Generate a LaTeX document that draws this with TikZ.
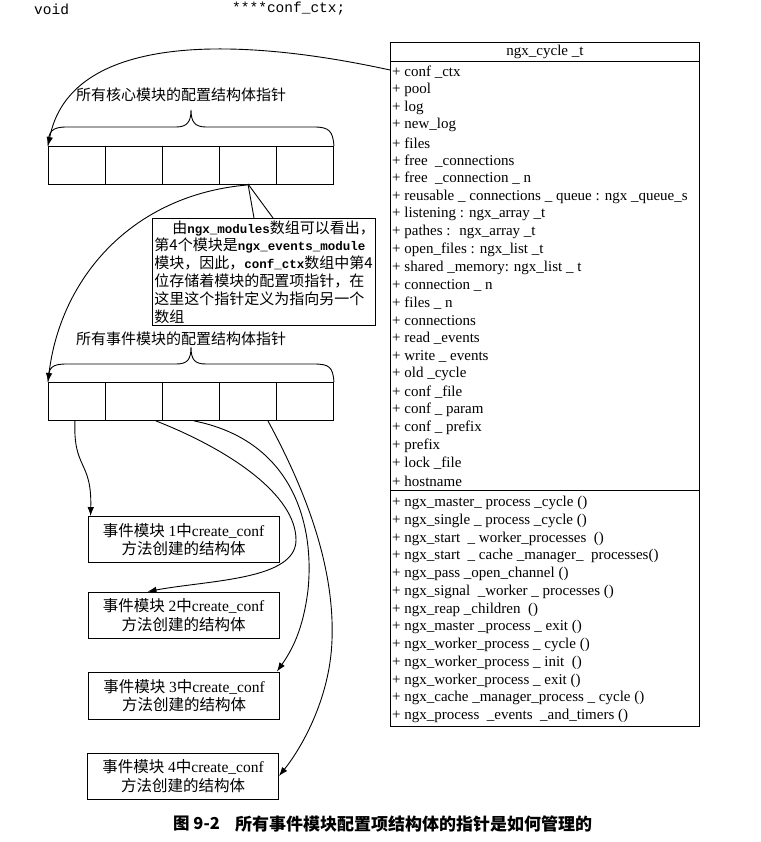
\documentclass[tikz,border=0pt]{standalone}
\usepackage{fontspec}
\setmainfont{Liberation Serif}
\setmonofont{Liberation Mono}
\newfontfamily\cjk{Noto Sans CJK SC}
\usetikzlibrary{arrows.meta,calc}
\newcommand\mtx[1]{{\ttfamily\bfseries\fontsize{12.5}{17.8}\selectfont #1}}
\begin{document}
\begin{tikzpicture}[x=1pt,y=-1pt,
  row/.style={anchor=west, inner sep=0pt, font=\fontsize{15}{17}\selectfont},
  cell/.style={draw, line width=0.9pt, minimum width=57pt, minimum height=38pt, inner sep=0pt, anchor=north west},
  evbox/.style={draw, line width=0.9pt, minimum width=191pt, minimum height=46pt, align=center, inner sep=0pt, font=\fontsize{15.5}{18.5}\selectfont},
  arr/.style={-{Latex[length=9pt,width=6.5pt]}, line width=0.9pt},
  lbl/.style={font=\cjk\fontsize{15}{17}\selectfont, inner sep=0pt},
  brc/.style={line width=0.9pt}]
\useasboundingbox (0,0) rectangle (760,842);
\fill[white] (0,0) rectangle (760,842);

% top declaration line
\node[anchor=west, inner sep=0pt, font=\ttfamily\fontsize{14.5}{16}\selectfont] (decl1) at (34,9) {void};
\node[anchor=west, inner sep=0pt, font=\ttfamily\fontsize{14.5}{16}\selectfont] (decl2) at (232,9) {****conf\_ctx;};

% class box
\node[draw, line width=1pt, minimum width=309pt, minimum height=684pt, anchor=north west, inner sep=0pt] (cls) at (390,42) {};
\node[font=\fontsize{15}{17}\selectfont, inner sep=0pt] (title) at (545,52) {ngx\_cycle \_t};
\draw[line width=1pt] ([yshift=-20pt]cls.north west) -- ([yshift=-20pt]cls.north east);
\draw[line width=1pt] ([yshift=-448pt]cls.north west) -- ([yshift=-448pt]cls.north east);
\foreach \t [count=\i] in {{conf \_ctx},{pool},{log},{new\_log},{files},{free \ \_connections},{free \ \_connection \_ n},{reusable \_ connections \_ queue : ngx \_queue\_s},{listening : ngx\_array \_t},{pathes : \ ngx\_array \_t},{open\_files : ngx\_list \_t},{shared \_memory: ngx\_list \_ t},{connection \_ n},{files \_ n},{connections},{read \_events},{write \_ events},{old \_cycle},{conf \_file},{conf \_ param},{conf \_ prefix},{prefix},{lock \_file},{hostname}}
  \node[row] (a\i) at (392,{72+(\i-1)*17.78}) {+ \t};
\foreach \t [count=\i] in {{ngx\_master\_ process \_cycle ()},{ngx\_single \_ process \_cycle ()},{ngx\_start \ \_ worker\_processes \ ()},{ngx\_start \ \_ cache \_manager\_ \ processes()},{ngx\_pass \_open\_channel ()},{ngx\_signal \ \_worker \_ processes ()},{ngx\_reap \_children \ ()},{ngx\_master \_process \_ exit ()},{ngx\_worker\_process \_ cycle ()},{ngx\_worker\_process \_ init \ ()},{ngx\_worker\_process \_ exit ()},{ngx\_cache \_manager\_process \_ cycle ()},{ngx\_process \ \_events \ \_and\_timers ()}}
  \node[row] (m\i) at (392,{503+(\i-1)*17.75}) {+ \t};

% core module array
\foreach \i in {1,...,5} \node[cell] (c\i) at ({48+(\i-1)*57},146) {};
\draw[brc] (c1.north west) .. controls (48,131) and (52,127) .. (67,127) -- (176,127)
  .. controls (187,127) and (191,122) .. (191,110)
  .. controls (191,122) and (195,127) .. (206,127) -- (314,127)
  .. controls (329,127) and (333,131) .. (c5.north east);
\node[lbl] (corelbl) at (181,95) {所有核心模块的配置结构体指针};
\draw[arr] (cls.west |- 0,70) .. controls (230,35) and (70,35) .. (c1.north west);

% note box
\node[draw, line width=0.9pt, anchor=north west, text width=219pt, inner sep=2pt, minimum height=107pt, align=left,
  font=\cjk\fontsize{15}{17.8}\selectfont] (note) at (152,218)
  {\hspace*{1.2em}由\mtx{ngx\_modules}数组可以看出，\\
   第4个模块是\mtx{ngx\_events\_module}\\
   模块，因此，\mtx{conf\_ctx}数组中第4\\
   位存储着模块的配置项指针，在\\
   这里这个指针定义为指向另一个\\
   数组};
\coordinate (ptip) at (248,184);
\draw[line width=0.9pt] (ptip) -- (254,218);
\draw[line width=0.9pt] (ptip) -- (273,218);

% event module array
\foreach \i in {1,...,5} \node[cell] (e\i) at ({48+(\i-1)*57},382) {};
\draw[brc] (e1.north west) .. controls (48,367) and (52,364) .. (67,364) -- (176,364)
  .. controls (187,364) and (191,360) .. (191,347)
  .. controls (191,360) and (195,364) .. (206,364) -- (314,364)
  .. controls (329,364) and (333,367) .. (e5.north east);
\node[lbl] (evlbl) at (181,339) {所有事件模块的配置结构体指针};
\draw[arr] (c4.south) .. controls (130,195) and (60,280) .. (e1.north west);

% event structures
\node[evbox] (b1) at (183.5,539.5) {{\cjk 事件模块} 1{\cjk 中}create\_conf\\{\cjk 方法创建的结构体}};
\node[evbox] (b2) at (183.5,615) {{\cjk 事件模块} 2{\cjk 中}create\_conf\\{\cjk 方法创建的结构体}};
\node[evbox, minimum height=47pt] (b3) at (184,695.5) {{\cjk 事件模块} 3{\cjk 中}create\_conf\\{\cjk 方法创建的结构体}};
\node[evbox] (b4) at (183,776) {{\cjk 事件模块} 4{\cjk 中}create\_conf\\{\cjk 方法创建的结构体}};

\draw[arr] ([xshift=-2pt]e1.south) .. controls (73,470) and (92,460) .. ([xshift=3pt]b1.north west);
\draw[arr] ([xshift=-7pt]e2.south east) .. controls (230,450) and (296,495) .. (296,540)
  .. controls (296,580) and (210,580) .. ([xshift=-36pt]b2.north);
\draw[arr] ([xshift=3pt]e3.south) .. controls (290,440) and (315,520) .. (308,590)
  .. controls (303,630) and (292,650) .. ([xshift=-3pt]b3.north east);
\draw[arr] ([xshift=20pt]e4.south) .. controls (300,480) and (335,560) .. (332,640)
  .. controls (330,700) and (300,750) .. (b4.east);

% caption
\node[anchor=west, inner sep=0pt, font=\cjk\bfseries\fontsize{16.5}{18}\selectfont] (cap1) at (173,824) {图 9-2};
\node[anchor=west, inner sep=0pt, font=\cjk\bfseries\fontsize{17}{18}\selectfont] (cap2) at (235,824) {所有事件模块配置项结构体的指针是如何管理的};
\end{tikzpicture}
\end{document}
